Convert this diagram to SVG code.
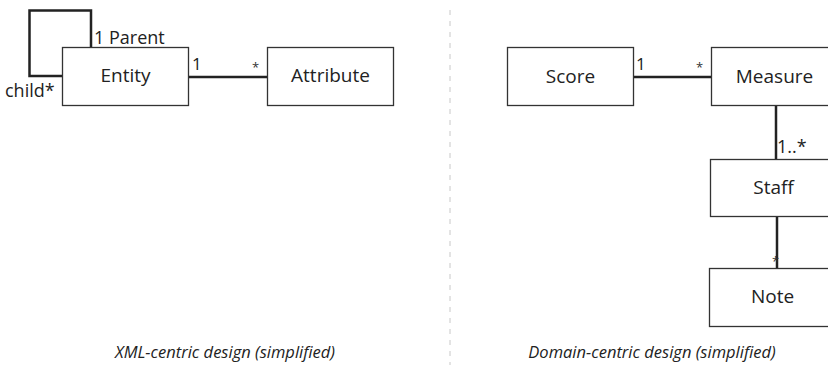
<svg xmlns="http://www.w3.org/2000/svg" width="828" height="365" viewBox="0 0 828 365">
<style>
.box{fill:#fff;stroke:#333;stroke-width:1.3}
.lbl{font-family:"Open Sans","Noto Sans",sans-serif;font-size:19px;fill:#222;text-anchor:middle}
.m{font-family:"Open Sans","Noto Sans",sans-serif;font-size:18px;fill:#222}
.one{font-family:"Open Sans","Noto Sans",sans-serif;font-size:17px;fill:#222}
.star{font-family:"Open Sans","Noto Sans",sans-serif;font-size:13px;fill:#333}
.cap{font-family:"Open Sans","Noto Sans",sans-serif;font-size:16.5px;font-style:italic;fill:#222;text-anchor:middle}
.conn{fill:none;stroke:#222;stroke-width:2.5}
</style>
<line x1="450" y1="10" x2="450" y2="365" stroke="#c8c8c8" stroke-width="1" stroke-dasharray="5 6"/>
<g id="connectors">
<polyline class="conn" points="62,76 29.5,76 29.5,10.5 91,10.5 91,47"/>
<line class="conn" x1="188" y1="77" x2="267" y2="77"/>
<line class="conn" x1="633" y1="77" x2="711" y2="77"/>
<line class="conn" x1="776" y1="106" x2="776" y2="159"/>
<line class="conn" x1="777" y1="216" x2="777" y2="268"/>
</g>
<g id="entity"><rect class="box" x="62.5" y="47.5" width="126" height="58"/><text class="lbl" x="125.5" y="82">Entity</text></g>
<g id="attribute"><rect class="box" x="267.5" y="47.5" width="126" height="58"/><text class="lbl" x="330.5" y="82">Attribute</text></g>
<g id="score"><rect class="box" x="507.5" y="47.5" width="126" height="58"/><text class="lbl" x="570.5" y="83">Score</text></g>
<g id="measure"><rect class="box" x="711.5" y="47.5" width="126" height="58"/><text class="lbl" x="774.5" y="83">Measure</text></g>
<g id="staff"><rect class="box" x="710.5" y="159.5" width="126" height="57"/><text class="lbl" x="773.5" y="194">Staff</text></g>
<g id="note"><rect class="box" x="709.5" y="268.5" width="126" height="58"/><text class="lbl" x="772.5" y="303">Note</text></g>
<g id="labels">
<text class="m" x="94" y="44">1 Parent</text>
<text class="m" x="5" y="97">child*</text>
<text class="one" x="192" y="70">1</text>
<text class="star" x="252" y="72">*</text>
<text class="one" x="636" y="70">1</text>
<text class="star" x="696" y="72">*</text>
<text class="m" x="777" y="153">1..*</text>
<text class="star" x="772" y="266">*</text>
</g>
<g id="captions">
<text class="cap" x="225" y="358">XML-centric design (simplified)</text>
<text class="cap" x="652" y="358">Domain-centric design (simplified)</text>
</g>
</svg>
